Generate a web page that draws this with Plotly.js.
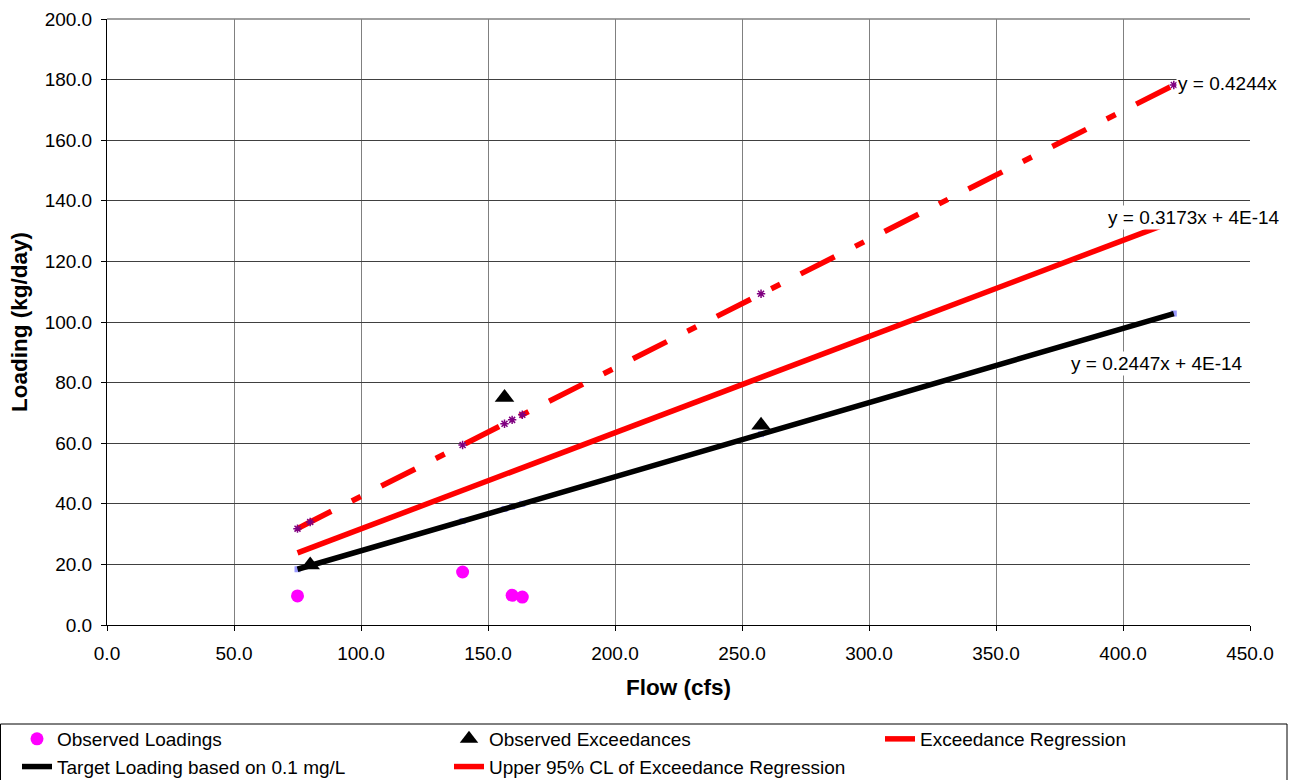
<!DOCTYPE html>
<html>
<head>
<meta charset="utf-8">
<script src="https://cdn.plot.ly/plotly-3.0.1.min.js"></script>
<style>html,body{margin:0;padding:0;background:#fff;}#chart{width:1289px;height:780px;}</style>
</head>
<body>
<div id="chart"></div>
<script>
// Flow (cfs) at which the target and upper-CL values are plotted
const flows = [75, 80, 140, 156.5, 159.5, 163.5, 257.5, 420];
const targetLoading = [18.4, 19.6, 34.3, 38.3, 39.0, 40.0, 63.0, 102.8];
const upperCL = [31.8, 34.0, 59.4, 66.4, 67.7, 69.4, 109.3, 178.2];

const obsFlows = [75, 140, 159.5, 163.5];
const obsLoadings = [9.6, 17.5, 9.8, 9.2];

const excFlows = [80, 156.5, 257.5];
const excLoadings = [19.8, 75.1, 65.9];

const regFlows = [75, 420];
const regLoadings = [23.8, 133.3];

const eqTexts = ['y = 0.4244x', 'y = 0.3173x + 4E-14', 'y = 0.2447x + 4E-14'];
const eqX = [421.0, 393.3, 378.7];
const eqY = [178.6, 134.4, 86.3];

const FONT = 'Liberation Sans, Arial, sans-serif';

const traces = [
  {x: flows, y: targetLoading, mode: 'markers', showlegend: false, hoverinfo: 'skip',
   marker: {symbol: 'square', size: 6, color: '#9999FF'}},
  {x: flows, y: targetLoading, mode: 'lines', name: 'Target Loading based on 0.1 mg/L',
   legend: 'legend', legendrank: 2,
   line: {color: '#000000', width: 5.5}},
  {x: regFlows, y: regLoadings, mode: 'lines', name: 'Exceedance Regression',
   legend: 'legend3', legendrank: 1,
   line: {color: '#FF0000', width: 5.5}},
  {x: flows, y: upperCL, mode: 'lines', name: 'Upper 95% CL of Exceedance Regression',
   legend: 'legend2', legendrank: 2,
   line: {color: '#FF0000', width: 5.5, dash: '38px,23px,10px,23px'}},
  {x: flows, y: upperCL, mode: 'markers', showlegend: false, hoverinfo: 'skip',
   marker: {symbol: 'asterisk-open', size: 7, color: '#800080', line: {color: '#800080', width: 1.5}}},
  {x: obsFlows, y: obsLoadings, mode: 'markers', name: 'Observed Loadings',
   legend: 'legend', legendrank: 1,
   marker: {symbol: 'circle', size: 13, color: '#FF00FF'}},
  {x: excFlows, y: excLoadings, mode: 'markers', name: 'Observed Exceedances',
   legend: 'legend2', legendrank: 1,
   marker: {symbol: 'triangle-up', size: 17, color: '#000000'}}
];

const W = 1143, H = 606, L = 107, T = 19;
function px2x(p) { return (p - L) / W; }
function py2y(p) { return (T + H - p) / H; }

function legendAt(leftPx) {
  return {
    orientation: 'v', x: px2x(leftPx), xanchor: 'left', y: py2y(720), yanchor: 'top',
    bgcolor: 'rgba(0,0,0,0)', borderwidth: 0,
    font: {family: FONT, size: 19}, traceorder: 'normal'
  };
}

const layout = {
  width: 1289, height: 780,
  margin: {l: L, r: 39, t: T, b: 155, autoexpand: false},
  paper_bgcolor: '#ffffff', plot_bgcolor: '#ffffff',
  font: {family: FONT, size: 19, color: '#000000'},
  showlegend: true,
  xaxis: {
    range: [0, 450], dtick: 50, tick0: 0, tickformat: '.1f',
    showgrid: true, gridcolor: '#808080', gridwidth: 1,
    showline: true, linecolor: '#000000', linewidth: 1,
    ticks: 'outside', ticklen: 5, tickcolor: '#000000', ticklabelstandoff: 6,
    zeroline: false, tickfont: {size: 19},
    title: {text: '<b>Flow (cfs)</b>', font: {size: 22.5}, standoff: 16}
  },
  yaxis: {
    range: [0, 200], dtick: 20, tick0: 0, tickformat: '.1f',
    showgrid: true, gridcolor: '#404040', gridwidth: 1,
    showline: true, linecolor: '#000000', linewidth: 1,
    ticks: 'outside', ticklen: 5, tickcolor: '#000000', ticklabelstandoff: 5,
    zeroline: false, tickfont: {size: 19},
    title: {text: '<b>Loading (kg/day)</b>', font: {size: 22.5}, standoff: 10}
  },
  legend: legendAt(17),
  legend2: legendAt(449),
  legend3: legendAt(880),
  shapes: [
    {type: 'rect', xref: 'paper', yref: 'paper', x0: px2x(0.5), x1: px2x(1287), y0: py2y(724), y1: py2y(790),
     line: {color: '#000000', width: 1}, fillcolor: 'rgba(0,0,0,0)'},
    {type: 'line', xref: 'paper', yref: 'paper', x0: 0, x1: 1, y0: 1, y1: 1,
     line: {color: '#808080', width: 1.5}}
  ],
  annotations: eqTexts.map((t, i) => ({
    text: t, x: eqX[i], y: eqY[i], xref: 'x', yref: 'y', xanchor: 'left', yanchor: 'middle',
    showarrow: false, bgcolor: '#ffffff', borderpad: 1, font: {size: 19}
  }))
};

Plotly.newPlot('chart', traces, layout, {displayModeBar: false, staticPlot: true});
</script>
</body>
</html>
